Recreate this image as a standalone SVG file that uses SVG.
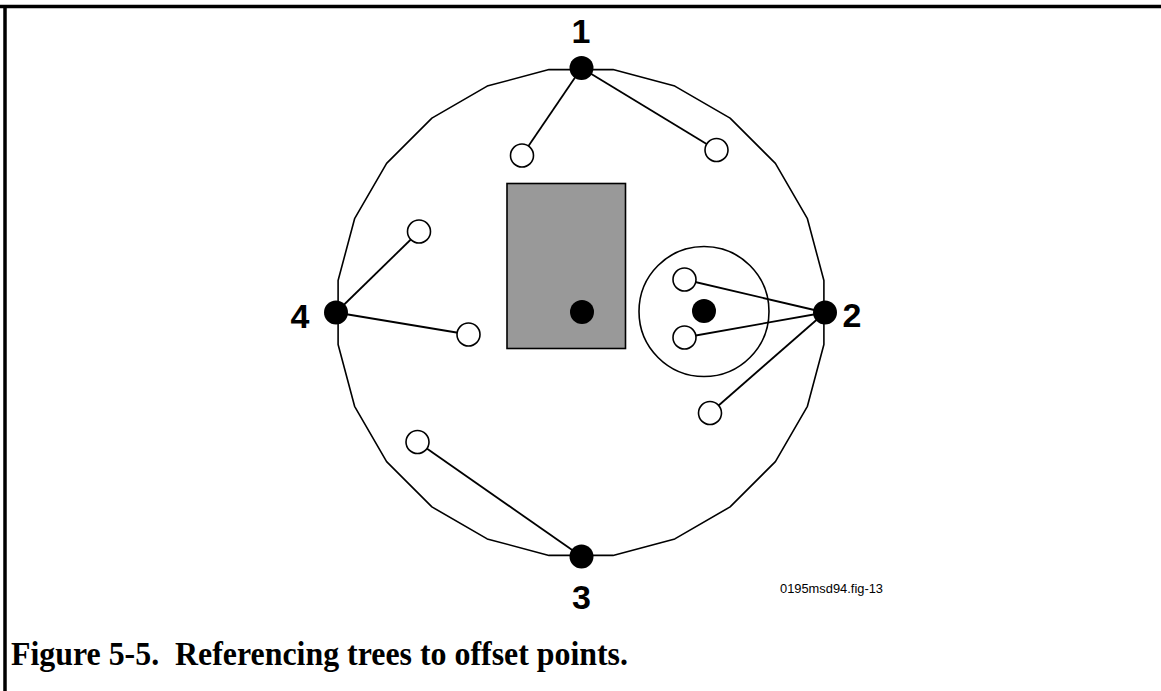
<svg xmlns="http://www.w3.org/2000/svg" width="1161" height="691" viewBox="0 0 1161 691">
<style>
.frame{stroke:#000;stroke-width:3.5;fill:none}
.ring{fill:none;stroke:#000;stroke-width:1.6;stroke-linejoin:round}
.conn{stroke:#000;stroke-width:1.8;fill:none}
.open{fill:#fff;stroke:#000;stroke-width:1.6}
.pt{fill:#000}
.lbl{font-family:"Liberation Sans",Arial,sans-serif;font-weight:bold;font-size:34px;fill:#000;text-anchor:middle}
.code{font-family:"Liberation Sans",Arial,sans-serif;font-size:12px;fill:#000}
.cap{font-family:"Liberation Serif","Times New Roman",serif;font-weight:bold;font-size:33px;fill:#000}
</style>
<rect x="0" y="0" width="1161" height="691" fill="#fff"/>
<g id="frame">
<line class="frame" x1="0" y1="6.5" x2="1161" y2="6.5"/>
<line class="frame" x1="5" y1="5" x2="5" y2="691"/>
</g>
<g id="boundary">
<polygon class="ring" points="613.0,69.6 674.8,86.1 730.1,118.1 775.4,163.4 807.4,218.7 823.9,280.5 823.9,344.5 807.4,406.3 775.4,461.6 730.1,506.9 674.8,538.9 613.0,555.4 549.0,555.4 487.2,538.9 431.9,506.9 386.6,461.6 354.6,406.3 338.1,344.5 338.1,280.5 354.6,218.7 386.6,163.4 431.9,118.1 487.2,86.1 549.0,69.6"/>
</g>
<g id="obstacle">
<rect x="507" y="183.5" width="118.5" height="165" fill="#999999" stroke="#000" stroke-width="1.6"/>
<circle class="pt" cx="582" cy="312" r="12"/>
</g>
<g id="offset-zone">
<circle cx="704" cy="311.5" r="65" fill="none" stroke="#000" stroke-width="1.6"/>
<circle class="pt" cx="704" cy="311" r="12"/>
</g>
<g id="connectors">
<line class="conn" x1="581.5" y1="68" x2="522" y2="155.5"/>
<line class="conn" x1="581.5" y1="68" x2="716.5" y2="150"/>
<line class="conn" x1="825" y1="312.5" x2="684.5" y2="279.5"/>
<line class="conn" x1="825" y1="312.5" x2="684.5" y2="337.5"/>
<line class="conn" x1="825" y1="312.5" x2="710" y2="413"/>
<line class="conn" x1="336" y1="312.5" x2="419" y2="231.5"/>
<line class="conn" x1="336" y1="312.5" x2="468.5" y2="334.5"/>
<line class="conn" x1="581.5" y1="556.5" x2="417.5" y2="442"/>
</g>
<g id="trees">
<circle class="open" cx="522" cy="155.5" r="11.5"/>
<circle class="open" cx="716.5" cy="150" r="11.5"/>
<circle class="open" cx="684.5" cy="279.5" r="11.5"/>
<circle class="open" cx="684.5" cy="337.5" r="11.5"/>
<circle class="open" cx="710" cy="413" r="11.5"/>
<circle class="open" cx="419" cy="231.5" r="11.5"/>
<circle class="open" cx="468.5" cy="334.5" r="11.5"/>
<circle class="open" cx="417.5" cy="442" r="11.5"/>
</g>
<g id="point-1">
<circle class="pt" cx="581.5" cy="68" r="12"/>
<text class="lbl" x="581" y="43">1</text>
</g>
<g id="point-2">
<circle class="pt" cx="825" cy="312.5" r="12"/>
<text class="lbl" x="852" y="326.5">2</text>
</g>
<g id="point-3">
<circle class="pt" cx="581.5" cy="556.5" r="12"/>
<text class="lbl" x="581.5" y="609">3</text>
</g>
<g id="point-4">
<circle class="pt" cx="336" cy="312.5" r="12"/>
<text class="lbl" x="300" y="327.5">4</text>
</g>
<text class="code" x="780" y="592.5" textLength="103" lengthAdjust="spacingAndGlyphs">0195msd94.fig-13</text>
<text class="cap" x="11" y="665" xml:space="preserve" textLength="617" lengthAdjust="spacingAndGlyphs">Figure 5-5.  Referencing trees to offset points.</text>
</svg>
